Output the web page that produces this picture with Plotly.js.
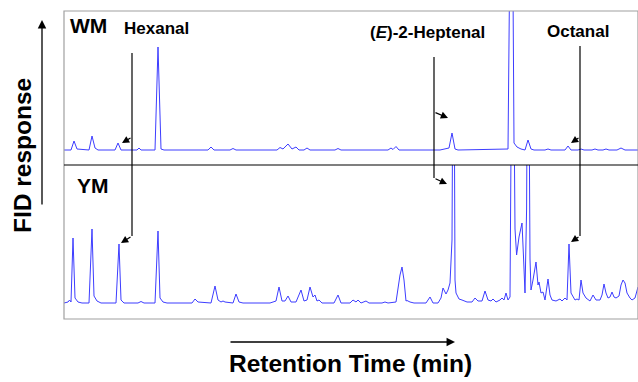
<!DOCTYPE html>
<html>
<head>
<meta charset="utf-8">
<script src="https://cdn.plot.ly/plotly-3.0.1.min.js"></script>
<style>html,body{margin:0;padding:0;background:#fff;}#chart{width:638px;height:382px;}</style>
</head>
<body>
<div id="chart"></div>
<script>
// Retention time (min) and FID response (arbitrary units)
const wmTime = [3.20,3.55,3.70,3.85,4.45,4.60,4.75,4.90,5.75,5.90,6.05,6.85,6.95,7.05,7.75,7.90,8.05,8.20,
  10.40,10.55,10.70,11.50,11.65,11.80,13.85,14.00,14.15,14.40,14.60,14.80,14.95,15.20,15.35,15.50,
  16.75,16.90,17.05,19.40,19.55,19.65,19.80,19.95,22.00,22.25,22.45,22.60,22.75,22.90,
  25.40,25.58,25.70,25.85,26.05,26.25,26.40,26.55,26.70,27.25,27.40,27.55,28.25,28.40,28.55,
  28.90,29.05,29.20,29.60,29.75,29.90,30.15,30.30,30.45,30.85,31.05,31.25,31.90];
const wmResponse = [15,15,24,16,15,29,17,15,15,22,15,15,17,15,15,118,16,15,
  15,18,15,15,16.5,15,15,17.5,16,21,16,18,15,15,17,15,
  15,16.5,15,15,17,15.5,18.5,15,15,16,17,32,16,15,
  16,400,22,18,16,15,25,16,15,15,16,15,15,19,15,
  15,16,15,15,16,15,15,16,15,15,17,15,15];

const ymTime = [3.20,3.40,3.48,3.55,3.65,3.75,3.90,4.10,4.45,4.60,4.70,4.85,5.05,5.80,5.95,6.05,6.20,
  6.90,7.05,7.20,7.75,7.90,8.00,8.15,8.35,9.60,9.75,9.90,10.55,10.75,10.90,11.05,11.15,11.25,11.45,
  11.65,11.80,11.95,12.15,13.10,13.35,13.50,13.65,13.80,13.95,14.10,14.25,14.40,14.55,14.80,15.05,
  15.20,15.35,15.50,15.65,15.75,15.85,15.95,16.10,16.70,16.90,17.05,17.50,17.65,17.80,17.90,18.05,
  18.30,18.45,19.10,19.25,19.40,19.80,20.00,20.10,20.20,20.30,20.35,20.50,20.70,21.30,21.50,21.65,
  21.90,22.05,22.15,22.30,22.40,22.50,22.60,22.68,22.75,22.80,22.95,23.10,23.35,23.60,23.75,23.90,
  24.10,24.25,24.40,24.55,24.65,24.80,25.00,25.10,25.20,25.30,25.40,25.50,25.63,25.75,25.83,25.95,
  26.10,26.18,26.25,26.33,26.40,26.50,26.55,26.65,26.80,26.90,26.95,27.05,27.15,27.25,27.40,27.50,
  27.60,27.80,28.00,28.10,28.25,28.35,28.45,28.55,28.65,28.75,28.85,28.95,29.05,29.15,29.30,29.50,
  29.65,29.80,30.00,30.10,30.20,30.30,30.40,30.50,30.60,30.70,30.80,30.95,31.05,31.15,31.25,31.35,
  31.50,31.60,31.75,31.85,31.90];
const ymResponse = [16,17,19,17,81,21,17,16,16,90,23,18,16,16,75,19,16,
  16,17.5,16,16,88,21,17,16,16,20,17,16,33,19,17,18,17,16.5,
  16,25,17,16,16,16.5,16,17,18,32,18,18,23,17,17,29,
  18,19,32,22,24,18,19,16,16,24,16,16,19,17,19,16,
  18,16,16,17,16,17,44,52,39,18,18.5,17,16,16,22,16,
  16,21,31,25,29,36,79,400,39,26,20,19,17,17,21,18,
  18,28,19,18,20,17,19,21,19,26,19,22,400,90,64,82,
  96,60,26,110,400,60,29,39,57,34,37,26,27,19,40,24,
  19,18,20,18,21,19,75,26,23,19,20,19,39,26,21,18,
  24,19,19,24,35,26,21,22,27,22,21,23,34,39,36,26,
  21,19,21,30,32];

const samples = ['WM', 'YM'];
const compounds = ['Hexanal', '(<i>E</i>)-2-Heptenal', 'Octanal'];
// peak apex of each compound in WM and YM (time, response)
const wmPeakTime = [6.10, 22.40, 28.55];
const wmPeakResp = [22, 47, 22];
const ymPeakTime = [6.05, 22.35, 28.55];
const ymPeakResp = [76, 135, 77];
const xTitle = 'Retention Time (min)';
const yTitle = 'FID response';

// ---- layout helpers (pixel -> paper) ----
const L = 64, T = 11, PW = 574, PH = 308;
const px = v => (v - L) / PW;
const py = v => (T + PH - v) / PH;

const lineColor = '#3d3dff';
const traces = [
  {x: wmTime, y: wmResponse, xaxis: 'x', yaxis: 'y', mode: 'lines', line: {color: lineColor, width: 1}, hoverinfo: 'none', name: samples[0]},
  {x: ymTime, y: ymResponse, xaxis: 'x', yaxis: 'y2', mode: 'lines', line: {color: lineColor, width: 1}, hoverinfo: 'none', name: samples[1]}
];

const bold = (size) => ({family: 'Liberation Sans, Arial, sans-serif', size: size, color: '#000', weight: 'bold'});

// connector geometry for the three compounds (pixel positions of the guide lines)
const guideX = [132, 434, 580];
const guideTop = [53, 57, 46];
const guideBottom = [236, 178, 236];
const wmTailY = [137, 112, 137];
const labelPos = [[156.5, 28], [427.5, 33], [577.5, 31]];

const shapes = [
  {type: 'rect', xref: 'paper', yref: 'paper', x0: 0, x1: 1, y0: 0, y1: 1, line: {color: '#a0a0a0', width: 1.2}},
  {type: 'line', xref: 'paper', yref: 'paper', x0: 0, x1: 1, y0: 0.5, y1: 0.5, line: {color: '#000', width: 1.1}}
];
const annotations = [
  {xref: 'paper', yref: 'paper', x: px(88.5), y: py(26), text: samples[0], showarrow: false, font: bold(21), xanchor: 'center', yanchor: 'middle'},
  {xref: 'paper', yref: 'paper', x: px(92.5), y: py(186), text: samples[1], showarrow: false, font: bold(21), xanchor: 'center', yanchor: 'middle'},
  {xref: 'paper', yref: 'paper', x: px(350), y: py(363), text: xTitle, showarrow: false, font: bold(24.5), xanchor: 'center', yanchor: 'middle'},
  {xref: 'paper', yref: 'paper', x: px(22), y: py(156), text: yTitle, showarrow: false, font: bold(24.5), textangle: -90, xanchor: 'center', yanchor: 'middle'},
  // axis direction arrows
  {xref: 'paper', yref: 'paper', x: px(455), y: py(342), ax: -226, ay: 0, text: '', showarrow: true, arrowhead: 2, arrowsize: 1.3, arrowwidth: 1.3, arrowcolor: '#000', standoff: 0, font: {size: 1}},
  {xref: 'paper', yref: 'paper', x: px(42), y: py(20), ax: 0, ay: 186, text: '', showarrow: true, arrowhead: 2, arrowsize: 1.3, arrowwidth: 1.3, arrowcolor: '#000', standoff: 0, font: {size: 1}}
];

compounds.forEach((name, i) => {
  const gx = guideX[i];
  shapes.push({type: 'line', xref: 'paper', yref: 'paper', x0: px(gx), x1: px(gx), y0: py(guideTop[i]), y1: py(guideBottom[i]), line: {color: '#000', width: 1.2}});
  annotations.push({xref: 'paper', yref: 'paper', x: px(labelPos[i][0]), y: py(labelPos[i][1]), text: name, showarrow: false, font: bold(17), xanchor: 'center', yanchor: 'middle'});
  // arrow to WM peak
  annotations.push({xref: 'x', yref: 'y', x: wmPeakTime[i], y: wmPeakResp[i], axref: 'pixel', ayref: 'pixel',
    ax: gx - (wmPeakTime[i] * 20), ay: wmTailY[i] - (165 - wmPeakResp[i]), text: '', showarrow: true,
    arrowhead: 2, arrowsize: 1.2, arrowwidth: 1.2, arrowcolor: '#000', standoff: 0, font: {size: 1}});
  // arrow to YM peak
  annotations.push({xref: 'x', yref: 'y2', x: ymPeakTime[i], y: ymPeakResp[i], axref: 'pixel', ayref: 'pixel',
    ax: gx - (ymPeakTime[i] * 20), ay: guideBottom[i] - (319 - ymPeakResp[i]), text: '', showarrow: true,
    arrowhead: 2, arrowsize: 1.2, arrowwidth: 1.2, arrowcolor: '#000', standoff: 0, font: {size: 1}});
});

const axisCommon = {showgrid: false, zeroline: false, showticklabels: false, ticks: '', showline: false, fixedrange: true};
const layout = {
  width: 638, height: 382,
  margin: {l: L, r: 0, t: T, b: 382 - T - PH, pad: 0},
  paper_bgcolor: '#fff', plot_bgcolor: '#fff',
  showlegend: false,
  xaxis: Object.assign({range: [3.2, 31.9], anchor: 'y2'}, axisCommon),
  yaxis: Object.assign({range: [0, 154], domain: [0.5, 1]}, axisCommon),
  yaxis2: Object.assign({range: [0, 154], domain: [0, 0.5]}, axisCommon),
  shapes: shapes,
  annotations: annotations
};

Plotly.newPlot('chart', traces, layout, {displayModeBar: false, staticPlot: true});
</script>
</body>
</html>
